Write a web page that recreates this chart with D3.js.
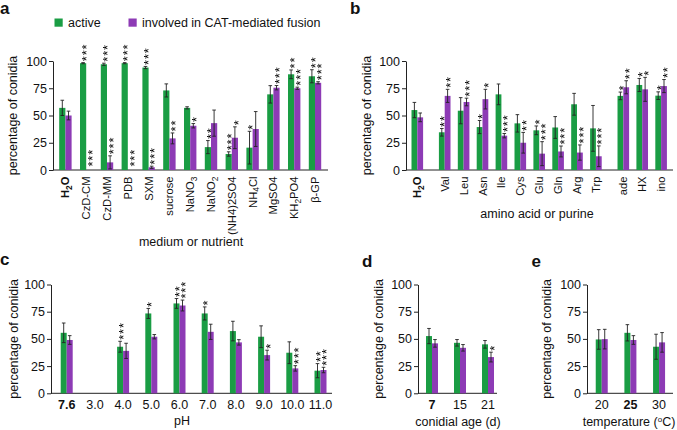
<!DOCTYPE html>
<html><head><meta charset="utf-8">
<script src="https://cdn.jsdelivr.net/npm/d3@7"></script>
<style>body{margin:0;background:#fff} svg{display:block;font-family:"Liberation Sans",Arial,Helvetica,sans-serif} .stars{filter:grayscale(100%)}</style>
</head><body><svg id="c" width="677" height="430"></svg>
<script>
// ---------- DATA ----------
const yTicks = [0, 25, 50, 75, 100];
const legendLabels = ["active", "involved in CAT-mediated fusion"];

// panel a  (labels: "_" marks a subscript digit)
const catsA = ["H_2O","CzD-CM","CzD-MM","PDB","SXM","sucrose","NaNO_3","NaNO_2","(NH4)2SO4","NH_4Cl","MgSO4","KH_2PO4","β-GP"];
const activeA    = [57, 98, 97, 98, 94, 73, 57, 21, 14.7, 20.5, 69.4, 87.8, 86];
const activeErrA = [7, 0.5, 1, 0.5, 1, 6, 1, 6, 2, 15, 8, 4, 6];
const fusionA    = [50, 0, 7, 0, 2.5, 29, 40.6, 43, 29.6, 37.6, 75.5, 75, 80];
const fusionErrA = [4, 0, 6, 0, 1, 5, 2, 12, 10, 16, 2, 1, 1];
const starsActA  = ["","***","***","***","***","","","**","***","*","","**","**"];
const starsFusA  = ["","***","***","***","***","**","*","","*","","***","***","***"];

// panel b
const catsB = ["H_2O","Val","Leu","Asn","Ile","Cys","Glu","Gln","Arg","Trp","ade","HX","ino"];
const groupB = [0,1,1,1,1,1,1,1,1,1,2,2,2];
const activeB    = [55, 34.6, 54.4, 39.4, 69.4, 42.8, 36.4, 39, 60.3, 38.2, 68, 78, 68.2];
const activeErrB = [7, 3.5, 12, 6, 9.5, 8, 4, 10, 10, 21, 3.5, 6, 3.5];
const fusionB    = [48.3, 68, 62.4, 65, 31.5, 25, 15, 17, 16, 12.6, 75.9, 74, 77];
const fusionErrB = [4, 6, 3.5, 9, 2, 9.5, 11, 5, 7, 9.5, 6, 11, 6];
const starsActB  = ["","**","","*","","","*","","","","*","*","*"];
const starsFusB  = ["","**","***","*","***","**","***","***","***","***","**","*","**"];

// panel c
const catsC = ["7.6","3.0","4.0","5.0","6.0","7.0","8.0","9.0","10.0","11.0"];
const activeC    = [55.6, null, 42.8, 73.4, 82.6, 73.4, 57.2, 52, 37.3, 20.8];
const activeErrC = [9, null, 5, 4.6, 4.5, 6, 9, 10, 10, 6.5];
const fusionC    = [49, null, 39, 52, 80.7, 56.5, 46.8, 35.1, 22.9, 21.4];
const fusionErrC = [4, null, 7, 2, 5, 7, 2.5, 4.5, 2.5, 2.5];
const starsActC  = ["","","***","*","**","*","","","","**"];
const starsFusC  = ["","","","","***","","","*","***","***"];

// panel d
const catsD = ["7","15","21"];
const activeD    = [52.6, 46.4, 45];
const activeErrD = [7, 3, 3.5];
const fusionD    = [45.9, 41.8, 33.3];
const fusionErrD = [3.5, 3, 4.5];
const starsActD  = ["","",""];
const starsFusD  = ["","","*"];

// panel e
const catsE = ["20","25","30"];
const activeE    = [49.5, 55.6, 42.8];
const activeErrE = [9, 7.5, 11.5];
const fusionE    = [49.8, 49, 46.8];
const fusionErrE = [9, 4, 9];

// control (bold) labels
const controlLabels = {a:"H_2O", b:"H_2O", c:"7.6", d:"7", e:"25"};

// ---------- DRAW ----------
const GREEN = "#1a9d44", PURPLE = "#8d3bb5", INK = "#111";
const svg = d3.select("#c");

function chemText(sel, s, size) {
  const parts = s.split(/_(\d)/);
  let shifted = false;
  parts.forEach((p, k) => {
    if (!p) return;
    const ts = sel.append("tspan").text(p);
    if (k % 2 === 1) { ts.attr("font-size", size * 0.75).attr("dy", 2.5); shifted = true; }
    else if (shifted) { ts.attr("dy", -2.5); shifted = false; }
  });
}

function drawPanel(o) {
  const g = svg.append("g");
  const y = d3.scaleLinear().domain([0, 100]).range([o.y0, o.y100]);
  const ax = g.append("g").attr("transform", `translate(${o.axisX},0)`)
    .call(d3.axisLeft(y).tickValues(yTicks).tickSize(4).tickSizeOuter(0).tickPadding(2));
  ax.attr("font-family", null).attr("font-size", null);
  ax.selectAll("text").style("font-size", "12.5px").attr("fill", INK);
  ax.selectAll("line,path").attr("stroke", "#222").attr("stroke-width", 1);
  g.append("line").attr("x1", o.axisX).attr("x2", o.axisEnd)
    .attr("y1", y(0)).attr("y2", y(0)).attr("stroke", "#222").attr("stroke-width", 1);

  const starG = g.append("g").attr("class", "stars");

  o.cats.forEach((c, i) => {
    const cx = o.cx(i);
    const series = [
      [o.act, o.actErr, o.sAct, GREEN, -1],
      [o.fus, o.fusErr, o.sFus, PURPLE, 0]
    ];
    series.forEach(([vals, errs, stars, col, side]) => {
      const v = vals[i];
      if (v == null) return;
      const bx = cx + side * o.bw;
      g.append("rect").attr("x", bx).attr("y", y(v)).attr("width", o.bw)
        .attr("height", y(0) - y(v)).attr("fill", col);
      const e = errs[i];
      const mx = bx + o.bw / 2;
      let top = y(v) - 1;
      if (e > 0) {
        const y1 = y(v + e), y2 = y(Math.max(0, v - e));
        g.append("line").attr("x1", mx).attr("x2", mx).attr("y1", y1).attr("y2", y2)
          .attr("stroke", "#222").attr("stroke-width", 0.9);
        [y1, y2].forEach(yy => g.append("line").attr("x1", mx - 1.8).attr("x2", mx + 1.8)
          .attr("y1", yy).attr("y2", yy).attr("stroke", "#222").attr("stroke-width", 0.9));
        top = y1;
      }
      if (v === 0) top = y(0) - 2;
      if (stars && stars[i]) {
        starG.append("text").attr("transform", `translate(${mx + 7.6},${top - 1.5}) rotate(-90)`)
          .attr("font-size", 13).attr("letter-spacing", 0.8).attr("fill", "#000")
          .text(stars[i]);
      }
    });

    const bold = c === o.control;
    if (o.rotLabels) {
      const t = g.append("text").attr("transform", `translate(${cx + 4},${y(0) + 6.5}) rotate(-90)`)
        .attr("text-anchor", "end").attr("font-size", 11.2).attr("fill", INK)
        .attr("font-weight", bold ? "bold" : null);
      chemText(t, c, 11.2);
    } else {
      g.append("text").attr("x", cx).attr("y", y(0) + 15.5).attr("text-anchor", "middle")
        .attr("font-size", 12.5).attr("fill", INK).attr("font-weight", bold ? "bold" : null).text(c);
    }
  });

  g.append("text").attr("transform", `translate(${o.yTitleX},${(o.y0 + o.y100) / 2}) rotate(-90)`)
    .attr("text-anchor", "middle").attr("font-size", 12.5).attr("fill", INK).text("percentage of conidia");
  const xt = g.append("text").attr("x", o.xTitleX).attr("y", o.xTitleY).attr("text-anchor", "middle")
    .attr("font-size", 12.5).attr("fill", INK);
  if (o.xTitleSup) {
    xt.append("tspan").text(o.xTitle[0]);
    xt.append("tspan").text(o.xTitle[1]).attr("font-size", 8).attr("dy", -4.5);
    xt.append("tspan").text(o.xTitle[2]).attr("dy", 4.5);
  } else xt.text(o.xTitle);
  svg.append("text").attr("x", o.letterX).attr("y", o.letterY).attr("font-size", 17)
    .attr("font-weight", "bold").attr("fill", INK).text(o.letter);
}

// panel a
const xA = d3.scaleBand().domain(catsA).range([55, 325.4]);
drawPanel({
  cats: catsA, cx: i => xA(catsA[i]) + xA.bandwidth() / 2, bw: 6.2,
  act: activeA, actErr: activeErrA, fus: fusionA, fusErr: fusionErrA, sAct: starsActA, sFus: starsFusA,
  y0: 170, y100: 61, axisX: 53, axisEnd: 328, rotLabels: true, control: controlLabels.a,
  yTitleX: 17, xTitle: "medium or nutrient", xTitleX: 191, xTitleY: 246,
  letter: "a", letterX: 0, letterY: 13.5
});

// panel b: groups separated by extra gap
const gapB = 0.45;
const slotB = catsB.map((c, i) => i + gapB * groupB[i]);
const xB = d3.scaleLinear().domain([0, 1]).range([417.3, 436.2]);
drawPanel({
  cats: catsB, cx: i => xB(slotB[i]), bw: 5.8,
  act: activeB, actErr: activeErrB, fus: fusionB, fusErr: fusionErrB, sAct: starsActB, sFus: starsFusB,
  y0: 170, y100: 61, axisX: 406, axisEnd: 673, rotLabels: true, control: controlLabels.b,
  yTitleX: 371, xTitle: "amino acid or purine", xTitleX: 537, xTitleY: 218,
  letter: "b", letterX: 350, letterY: 13.5
});

// panel c
const xC = d3.scaleBand().domain(catsC).range([52.6, 334.6]);
drawPanel({
  cats: catsC, cx: i => xC(catsC[i]) + xC.bandwidth() / 2, bw: 6,
  act: activeC, actErr: activeErrC, fus: fusionC, fusErr: fusionErrC, sAct: starsActC, sFus: starsFusC,
  y0: 393.3, y100: 284.5, axisX: 51, axisEnd: 332, rotLabels: false, control: controlLabels.c,
  yTitleX: 18, xTitle: "pH", xTitleX: 182, xTitleY: 425,
  letter: "c", letterX: 0, letterY: 265
});

// panel d
const xD = d3.scaleBand().domain(catsD).range([418, 502]);
drawPanel({
  cats: catsD, cx: i => xD(catsD[i]) + xD.bandwidth() / 2, bw: 6,
  act: activeD, actErr: activeErrD, fus: fusionD, fusErr: fusionErrD, sAct: starsActD, sFus: starsFusD,
  y0: 393.3, y100: 284.5, axisX: 418, axisEnd: 497, rotLabels: false, control: controlLabels.d,
  yTitleX: 382.5, xTitle: "conidial age (d)", xTitleX: 458, xTitleY: 426,
  letter: "d", letterX: 362, letterY: 266.5
});

// panel e
const xE = d3.scaleBand().domain(catsE).range([587.4, 673.4]);
drawPanel({
  cats: catsE, cx: i => xE(catsE[i]) + xE.bandwidth() / 2, bw: 6,
  act: activeE, actErr: activeErrE, fus: fusionE, fusErr: fusionErrE, sAct: null, sFus: null,
  y0: 393.3, y100: 284.5, axisX: 587, axisEnd: 673, rotLabels: false, control: controlLabels.e,
  yTitleX: 550.5, xTitle: ["temperature (", "o", "C)"], xTitleSup: true, xTitleX: 629, xTitleY: 426,
  letter: "e", letterX: 531.5, letterY: 266.5
});

// legend
const legend = svg.append("g").attr("font-size", 12.5).attr("fill", INK);
const legX = [54.5, 128.5];
[GREEN, PURPLE].forEach((col, i) => {
  legend.append("rect").attr("x", legX[i]).attr("y", 18.5).attr("width", 8.2).attr("height", 8.2).attr("fill", col);
  legend.append("text").attr("x", legX[i] + 13.5).attr("y", 27).text(legendLabels[i]);
});
</script>
</body></html>
